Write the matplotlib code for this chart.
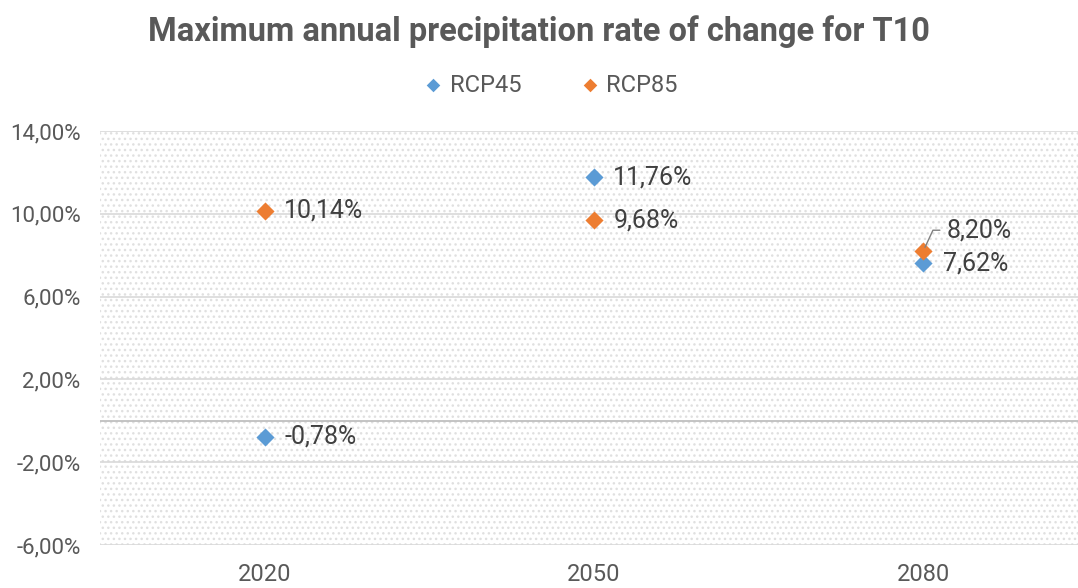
import matplotlib.pyplot as plt
from matplotlib.patches import Rectangle

plt.rcParams['font.family'] = ['Roboto', 'DejaVu Sans']

years = ['2020', '2050', '2080']
rcp45 = [-0.78, 11.76, 7.62]
rcp85 = [10.14, 9.68, 8.20]
yticks = [-6, -2, 2, 6, 10, 14]

blue = '#5b9bd5'
orange = '#ed7d31'
grey = '#595959'

fig = plt.figure(figsize=(10.78, 5.88), dpi=100)
ax = fig.add_axes([100 / 1078, 1 - 545 / 588, 1 - 100 / 1078, (545 - 131) / 588])

x = list(range(len(years)))
ax.set_xlim(-0.5, 2.47)
ax.set_ylim(-6, 14)

# dotted background
bg = Rectangle((0, 0), 1, 1, transform=ax.transAxes, facecolor='white',
               edgecolor='#e0e0e0', hatch='...', linewidth=0, zorder=0)
ax.add_patch(bg)

for y in yticks:
    ax.axhline(y, color='#d9d9d9', linewidth=1.2, zorder=1)
ax.axhline(0, color='#bfbfbf', linewidth=1.3, zorder=1)

ax.scatter(x, rcp45, marker='D', s=85, color=blue, zorder=3, label='RCP45', linewidths=0)
ax.scatter(x, rcp85, marker='D', s=85, color=orange, zorder=3, label='RCP85', linewidths=0)

def fmt(v):
    return f'{v:.2f}'.replace('.', ',') + '%'

for i in x:
    ax.annotate(fmt(rcp45[i]), (i, rcp45[i]), xytext=(14, 0), textcoords='offset points',
                va='center', ha='left', fontsize=18, color='#404040', zorder=4)
    if i == 2:
        ax.annotate(fmt(rcp85[i]), (i, rcp85[i]), xytext=(17, 15), textcoords='offset points',
                    va='center', ha='left', fontsize=18, color='#404040', zorder=4,
                    arrowprops=dict(arrowstyle='-', color='#808080', lw=1,
                                    shrinkA=3, shrinkB=3,
                                    connectionstyle='angle,angleA=0,angleB=65,rad=0'))
    else:
        ax.annotate(fmt(rcp85[i]), (i, rcp85[i]), xytext=(14, 0), textcoords='offset points',
                    va='center', ha='left', fontsize=18, color='#404040', zorder=4)

ax.set_xticks(x)
ax.set_xticklabels(years)
ax.set_yticks(yticks)
ax.set_yticklabels([f'{v:.2f}'.replace('.', ',') + '%' for v in yticks])
ax.tick_params(axis='both', length=0, labelcolor=grey)
ax.tick_params(axis='y', pad=14, labelsize=16)
ax.tick_params(axis='x', pad=13, labelsize=17)
for s in ax.spines.values():
    s.set_visible(False)

fig.text(0.5, 1 - 32 / 588, 'Maximum annual precipitation rate of change for T10',
         ha='center', va='center', fontsize=23.5, fontweight='bold', color=grey)

fig.legend(loc='center', bbox_to_anchor=(0.511, 1 - 85 / 588), ncol=2, frameon=False,
           fontsize=17, labelcolor=grey, handlelength=0.8, handletextpad=0.3,
           columnspacing=2.5, markerscale=0.75)

fig.savefig('out.png', dpi=100)
